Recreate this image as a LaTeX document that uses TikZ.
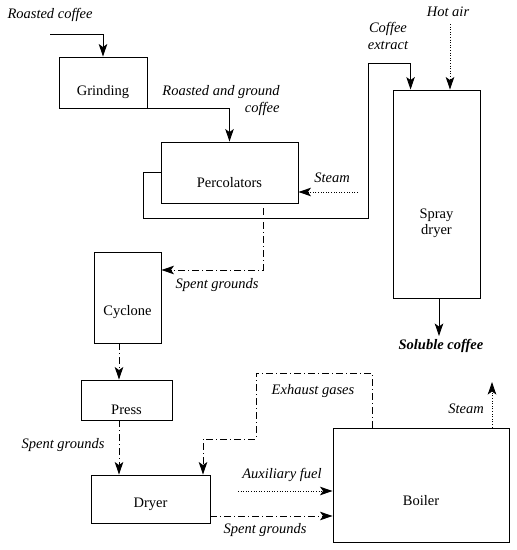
\documentclass[tikz,border=0pt]{standalone}
\usepackage{fontspec}
\setmainfont{Liberation Serif}
\usetikzlibrary{positioning, arrows.meta}

\begin{document}
\begin{tikzpicture}[
    x=1pt, y=-1pt,
    >={Stealth[length=12.5pt, width=8.5pt, inset=3pt]},
    font=\fontsize{14.5}{16}\selectfont,
    unit/.style={rectangle, draw, line width=0.9pt, inner sep=0pt},
    flow/.style={->, line width=0.9pt},
    dashdot/.style={->, line width=0.9pt, dash pattern=on 7pt off 3pt on 1pt off 3pt},
    dots/.style={->, line width=0.9pt, dash pattern=on 1pt off 1.6pt},
    tag/.style={font=\fontsize{14.5}{17}\selectfont\itshape, inner sep=0pt},
]

\useasboundingbox (0,0) rectangle (517,550);

% process units
\node[unit, minimum width=88, minimum height=51, label={[yshift=-10pt]center:Grinding}] (grind) at (103,82.5) {};
\node[unit, minimum width=137, minimum height=61, label={[yshift=-10pt]center:Percolators}] (perc) at (229.5,172.5) {};
\node[unit, minimum width=87, minimum height=208, label={[yshift=-29pt, align=center]center:Spray\\dryer}] (spray) at (436.5,194) {};
\node[unit, minimum width=67, minimum height=91, label={[yshift=-15pt]center:Cyclone}] (cyc) at (127.5,297.5) {};
\node[unit, minimum width=91, minimum height=40, label={[yshift=-10pt]center:Press}] (press) at (126.5,400) {};
\node[unit, minimum width=119, minimum height=48, label={[yshift=-5pt]center:Dryer}] (dryer) at (150.5,499) {};
\node[unit, minimum width=176, minimum height=114, label={[yshift=-16pt]center:Boiler}] (boiler) at (421,485) {};

% free ends
\coordinate (rcin) at (50,34);
\coordinate (hotin) at (450,24);
\coordinate (stin) at (358,192);
\coordinate (auxin) at (238,491);
\coordinate (stout) at (492,382);
\coordinate (solout) at (439,336);

% texts
\node[tag] (t_rc) at (50,15) {Roasted coffee};
\node[tag, align=right] (t_rg) at (221,101) {Roasted and ground\\coffee};
\node[tag, align=center] (t_ce) at (388,35.5) {Coffee\\extract};
\node[tag] (t_hot) at (448,12) {Hot air};
\node[tag] (t_st1) at (332,178) {Steam};
\node[tag] (t_sg1) at (217,285) {Spent grounds};
\node[tag] (t_sg2) at (63,445) {Spent grounds};
\node[tag] (t_exh) at (313,391) {Exhaust gases};
\node[tag] (t_aux) at (282,475) {Auxiliary fuel};
\node[tag] (t_sg3) at (265,530) {Spent grounds};
\node[tag] (t_st2) at (466,409) {Steam};
\node[tag, font=\fontsize{14.5}{17}\selectfont\bfseries\itshape] (t_sol) at (441,346) {Soluble coffee};

% solid flows
\draw[flow] (rcin) -| (grind.north);
\draw[flow] (grind.south east) -| (perc.north);
\draw[flow] (perc.west) -| (143,218) -| (368,63) -| ([xshift=18pt]spray.north west);
\draw[flow] (spray.south -| solout) -- (solout);

% dotted flows
\draw[dots] (hotin) -- (hotin |- spray.north);
\draw[dots] (stin) -- (stin -| perc.east);
\draw[dots] (auxin) -- (auxin -| boiler.west);
\draw[dots] (stout |- boiler.north) -- (stout);

% dash-dot flows
\draw[dashdot] (263,208) |- (cyc.east |- 0,270);
\draw[dashdot] (cyc.south -| 119,0) -- (press.north -| 119,0);
\draw[dashdot] (press.south -| 119,0) -- (dryer.north -| 119,0);
\draw[dashdot] (boiler.north -| 372,0) |- (256,373) |- (203,439) -- (dryer.north -| 203,0);
\draw[dashdot] (dryer.east |- 0,516) -- (boiler.west |- 0,516);

\end{tikzpicture}
\end{document}
